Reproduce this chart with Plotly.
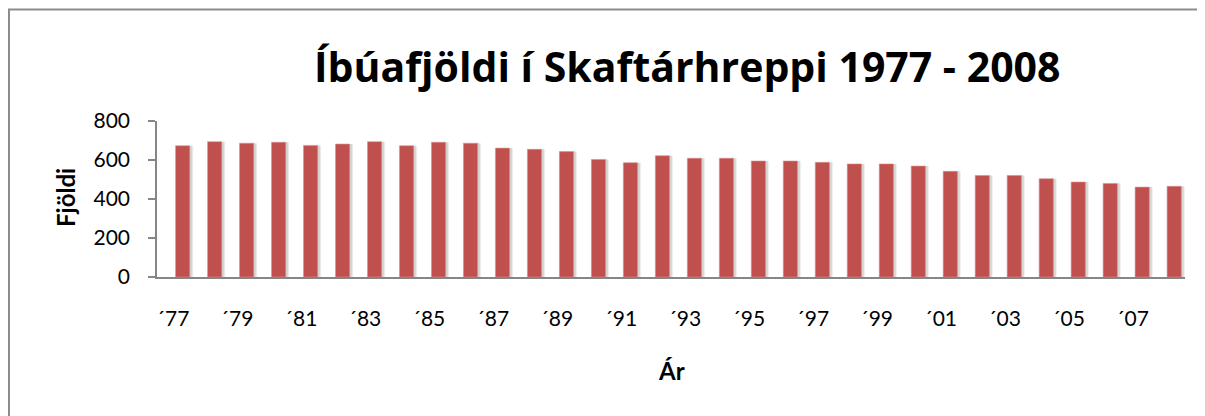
import plotly.graph_objects as go

years = [str(y) for y in range(1977, 2009)]
population = [673, 694, 686, 691, 675, 682, 694, 673, 691, 686, 661, 655, 643, 603,
              586, 622, 609, 609, 595, 595, 588, 580, 580, 569, 542, 521, 521, 504,
              487, 480, 461, 465]
tick_years = [str(y) for y in range(1977, 2009, 2)]
tick_labels = ["´" + y[2:] for y in tick_years]

# page body has an 8px margin: work in screen coordinates and subtract it
O = 8
W, H = 1205 - O, 416 - O
L = 157 - O
T = 121 - O
pw = 1028
R = W - L - pw
B = H - (277 - O)
ph = H - T - B


def px(x):
    return (x - O - L) / pw


def py(y):
    return (H - B - (y - O)) / ph


FONT = "Lato"
fig = go.Figure()

# soft shadow layers
for dx, alpha in [(0.11, 0.035), (0.09, 0.055), (0.07, 0.075)]:
    fig.add_trace(go.Bar(
        x=years, y=population, width=0.46, offset=0.08 + dx - 0.01,
        marker=dict(color=f"rgba(0,0,0,{alpha})", line=dict(width=0)),
        hoverinfo="skip", showlegend=False,
    ))

fig.add_trace(go.Bar(
    x=years, y=population, width=0.445, offset=0.08,
    marker=dict(color="#C0504D", line=dict(color="#D99694", width=0.6)),
    showlegend=False, name="Íbúafjöldi",
))

fig.update_layout(
    width=W, height=H,
    margin=dict(l=L, r=R, t=T, b=B),
    paper_bgcolor="white", plot_bgcolor="white",
    barmode="overlay",
    font=dict(family=FONT, color="black"),
)

fig.update_xaxes(
    type="category",
    tickmode="array", tickvals=tick_years, ticktext=tick_labels,
    tickfont=dict(size=21, family=FONT, color="black"),
    showgrid=False, zeroline=False,
    showline=True, linecolor="#868686", linewidth=2,
    ticks="", ticklabelstandoff=22,
)
fig.update_yaxes(
    range=[0, 800], tickvals=[0, 200, 400, 600, 800],
    tickfont=dict(size=21, family=FONT, color="black"),
    showgrid=False, zeroline=False,
    showline=True, linecolor="#868686", linewidth=1.5,
    ticks="outside", ticklen=7, tickcolor="#868686", tickwidth=1.5,
    ticklabelstandoff=14,
)

fig.add_annotation(
    text="<b>Íbúafjöldi í Skaftárhreppi 1977 - 2008</b>",
    xref="paper", yref="paper", x=px(687), y=py(66),
    xanchor="center", yanchor="middle", showarrow=False,
    font=dict(size=41, family="Open Sans", color="black"),
)
fig.add_annotation(
    text="<b>Fjöldi</b>", textangle=-90,
    xref="paper", yref="paper", x=px(65), y=py(198),
    xanchor="center", yanchor="middle", showarrow=False,
    font=dict(size=24, family=FONT, color="black"),
)
fig.add_annotation(
    text="<b>Ár</b>",
    xref="paper", yref="paper", x=px(671), y=py(370),
    xanchor="center", yanchor="middle", showarrow=False,
    font=dict(size=24, family=FONT, color="black"),
)

# outer chart frame
fig.add_shape(
    type="rect", xref="paper", yref="paper",
    x0=px(9), x1=px(1215), y0=py(9.5), y1=py(430),
    line=dict(color="#8C8C8C", width=2), fillcolor="rgba(0,0,0,0)",
    layer="below",
)

fig.write_html("out.html")
